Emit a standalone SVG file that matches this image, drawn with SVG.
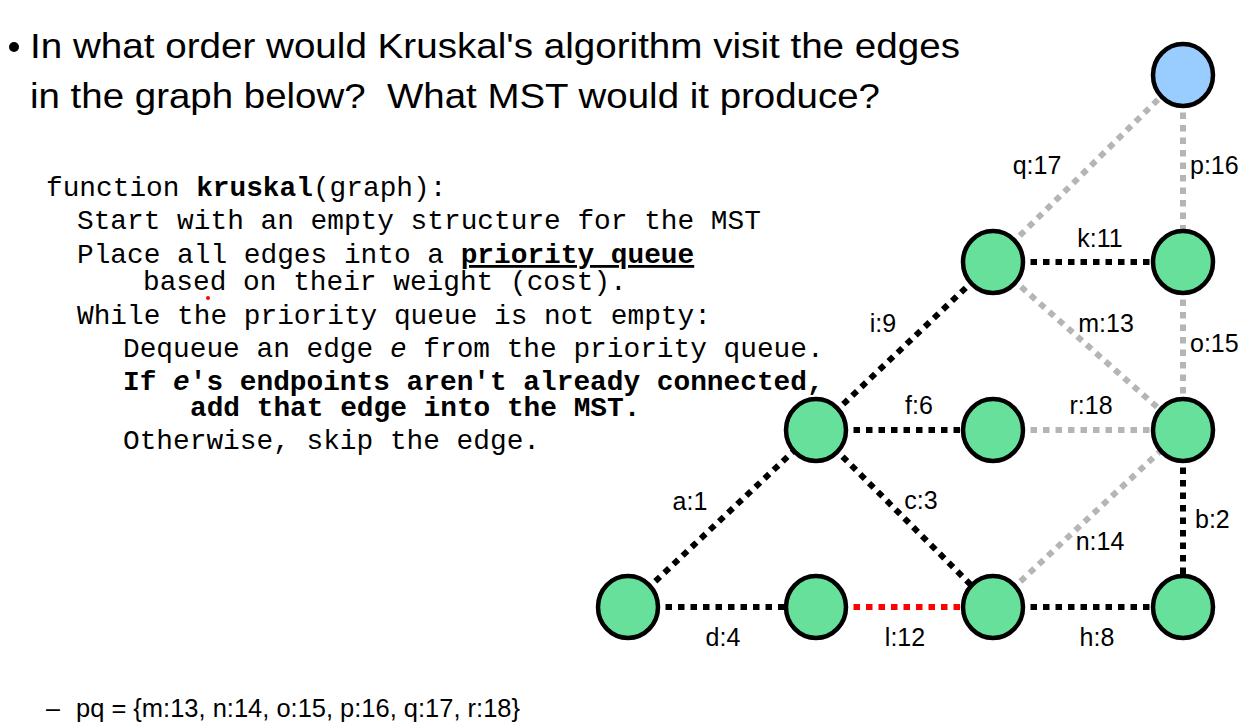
<svg xmlns="http://www.w3.org/2000/svg" width="1250" height="722" viewBox="0 0 1250 722">
<style>
.title{font-family:"Liberation Sans",Arial,sans-serif;font-size:35px;fill:#000}
.code{font-family:"Liberation Mono","Courier New",monospace;font-size:27.8px;fill:#000}
.b{font-weight:bold}
.lbl{font-family:"Liberation Sans",Arial,sans-serif;font-size:25px;fill:#000}
.e{stroke-width:6;stroke-dasharray:6.5 6;fill:none}
.blk{stroke:#000}
.gry{stroke:#B5B5B5}
.red{stroke:#FF0000}
.node{stroke:#000;stroke-width:4.5}
.g{fill:#66E09B}
.bl{fill:#99CCFF}
</style>
<rect width="1250" height="722" fill="#fff"/>
<g id="title">
<circle cx="14" cy="47" r="5" fill="#000"/>
<text class="title" x="30" y="58" textLength="930" lengthAdjust="spacingAndGlyphs">In what order would Kruskal's algorithm visit the edges</text>
<text class="title" x="30" y="108" textLength="850" lengthAdjust="spacingAndGlyphs" xml:space="preserve">in the graph below?  What MST would it produce?</text>
</g>
<g id="code">
<text class="code" x="46" y="196">function <tspan class="b">kruskal</tspan>(graph):</text>
<text class="code" x="77" y="229">Start with an empty structure for the MST</text>
<text class="code" x="77" y="263">Place all edges into a <tspan class="b" text-decoration="underline">priority queue</tspan></text>
<text class="code" x="143" y="290">based on their weight (cost).</text>
<text class="code" x="77" y="324">While the priority queue is not empty:</text>
<text class="code" x="123" y="357">Dequeue an edge <tspan font-style="italic">e</tspan> from the priority queue.</text>
<text class="code b" x="123" y="390">If <tspan font-style="italic">e</tspan>'s endpoints aren't already connected,</text>
<text class="code b" x="190" y="416">add that edge into the MST.</text>
<text class="code" x="123" y="449">Otherwise, skip the edge.</text>
<circle cx="208" cy="298" r="2" fill="#FF0000"/>
</g>
<g id="connectors">
<line class="e gry" x1="993" y1="262" x2="1183" y2="75"/>
<line class="e gry" x1="1183" y1="75" x2="1183" y2="262"/>
<line class="e gry" x1="993" y1="262" x2="1183" y2="430"/>
<line class="e gry" x1="1183" y1="262" x2="1183" y2="430"/>
<line class="e gry" x1="993" y1="430" x2="1183" y2="430"/>
<line class="e gry" x1="993" y1="607" x2="1183" y2="430"/>
<line class="e blk" x1="993" y1="262" x2="1183" y2="262"/>
<line class="e blk" x1="816" y1="430" x2="993" y2="262"/>
<line class="e blk" x1="816" y1="430" x2="993" y2="430"/>
<line class="e blk" x1="628" y1="607" x2="816" y2="430"/>
<line class="e blk" x1="816" y1="430" x2="993" y2="607"/>
<line class="e blk" x1="1183" y1="430" x2="1183" y2="607"/>
<line class="e blk" x1="628" y1="607" x2="816" y2="607"/>
<line class="e red" x1="816" y1="607" x2="993" y2="607"/>
<line class="e blk" x1="993" y1="607" x2="1183" y2="607"/>
</g>
<g id="edge-labels">
<text class="lbl" x="1037" y="174" text-anchor="middle">q:17</text>
<text class="lbl" x="1190" y="174">p:16</text>
<text class="lbl" x="1100" y="247" text-anchor="middle">k:11</text>
<text class="lbl" x="1106" y="332" text-anchor="middle">m:13</text>
<text class="lbl" x="1190" y="352">o:15</text>
<text class="lbl" x="883" y="332" text-anchor="middle">i:9</text>
<text class="lbl" x="919" y="414" text-anchor="middle">f:6</text>
<text class="lbl" x="1091" y="414" text-anchor="middle">r:18</text>
<text class="lbl" x="690" y="510" text-anchor="middle">a:1</text>
<text class="lbl" x="921" y="509" text-anchor="middle">c:3</text>
<text class="lbl" x="1195" y="528">b:2</text>
<text class="lbl" x="1100" y="550" text-anchor="middle">n:14</text>
<text class="lbl" x="723" y="646" text-anchor="middle">d:4</text>
<text class="lbl" x="905" y="646" text-anchor="middle">l:12</text>
<text class="lbl" x="1097" y="646" text-anchor="middle">h:8</text>
</g>
<g id="node-top"><ellipse class="node bl" cx="1183" cy="75" rx="30" ry="31"/></g>
<g id="node-k1"><ellipse class="node g" cx="993" cy="262" rx="30" ry="31"/></g>
<g id="node-k2"><ellipse class="node g" cx="1183" cy="262" rx="30" ry="31"/></g>
<g id="node-m1"><ellipse class="node g" cx="816" cy="430" rx="30" ry="31"/></g>
<g id="node-m2"><ellipse class="node g" cx="993" cy="430" rx="30" ry="31"/></g>
<g id="node-m3"><ellipse class="node g" cx="1183" cy="430" rx="30" ry="31"/></g>
<g id="node-b1"><ellipse class="node g" cx="628" cy="607" rx="30" ry="31"/></g>
<g id="node-b2"><ellipse class="node g" cx="816" cy="607" rx="30" ry="31"/></g>
<g id="node-b3"><ellipse class="node g" cx="993" cy="607" rx="30" ry="31"/></g>
<g id="node-b4"><ellipse class="node g" cx="1183" cy="607" rx="30" ry="31"/></g>
<g id="footer">
<text class="lbl" x="46" y="717" font-size="22">–</text>
<text class="lbl" x="76" y="717" font-size="22" textLength="444" lengthAdjust="spacingAndGlyphs">pq = {m:13, n:14, o:15, p:16, q:17, r:18}</text>
</g>
</svg>
